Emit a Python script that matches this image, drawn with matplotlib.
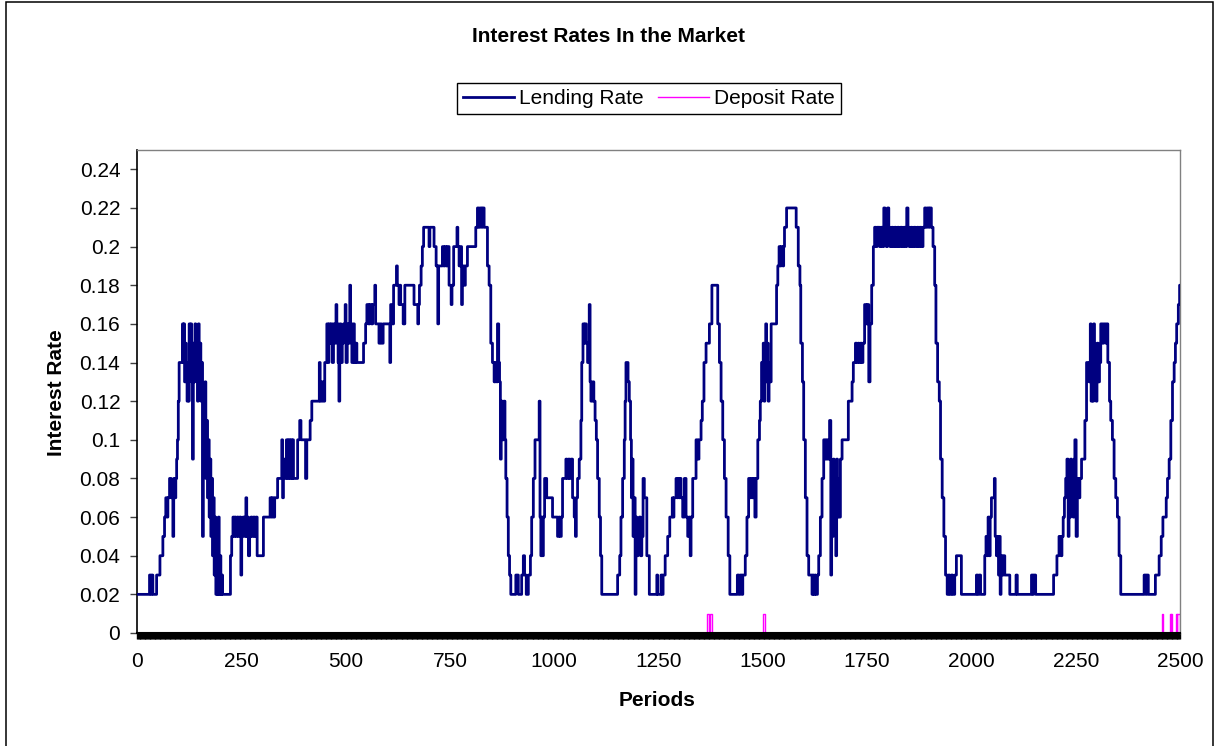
import numpy as np
import matplotlib
matplotlib.use("Agg")
import matplotlib.pyplot as plt
from matplotlib.ticker import MultipleLocator, FixedLocator
from matplotlib.patches import Rectangle

plt.rcParams['font.family'] = ['Liberation Sans', 'DejaVu Sans']

# ---- data ----
# Lending rate: step series, (start period, rate in percent)
lend_start = [
    0, 30, 33, 35, 38, 47, 55, 62, 66, 69, 72, 74, 78, 82, 86, 88, 91, 93, 95, 97,
    99, 101, 109, 111, 112, 114, 116, 118, 120, 122, 124, 125, 127, 129, 131, 133,
    135, 137, 139, 141, 143, 145, 147, 149, 151, 153, 155, 157, 159, 161, 163, 165,
    167, 169, 171, 173, 175, 177, 179, 181, 183, 185, 187, 189, 191, 193, 195, 197,
    199, 201, 203, 205,
    224, 227, 230, 232, 234, 237, 240, 243, 246, 249, 251, 254, 258, 261, 263, 265,
    267, 270, 273, 276, 279, 282, 285,
    288, 303, 319, 322, 324, 327, 330, 337, 347, 349, 351, 355, 358, 361, 363, 366,
    368, 371, 373, 375, 385, 390, 393, 404, 407, 415, 419, 437, 439, 443, 446, 450,
    455, 458, 460, 463, 465, 468, 471, 474, 477, 479, 482, 484, 486, 489, 492, 495,
    499, 501, 504, 507, 510, 512, 515, 518, 521, 524, 527, 543, 548, 551, 555, 558,
    562, 565, 570, 572, 580, 583, 586, 590, 606, 608, 612, 615, 622,
    624, 628, 630, 632, 638, 642, 664, 673, 675, 677, 681, 684, 687, 700, 702, 712,
    717, 721, 723, 732, 735, 738, 741, 744, 748, 753, 755, 759, 767, 769, 772, 775,
    778, 780, 784, 787, 792, 812, 816, 819, 822, 826, 828, 832, 840, 844, 848, 852,
    856, 859, 862, 864, 867, 869, 871, 873, 876, 879, 882, 884, 887, 890, 893, 896,
    908, 914, 922, 926, 929, 933, 938, 943, 946, 950, 954, 964, 966, 968, 970, 972,
    974, 977, 982, 996, 1008, 1011, 1014, 1017, 1020, 1028, 1031, 1034, 1037, 1040,
    1044, 1048, 1051, 1053, 1056, 1060, 1064, 1066, 1069, 1072, 1074, 1077, 1080,
    1082, 1084, 1086, 1088, 1092, 1095, 1098, 1101, 1104, 1108, 1111, 1114, 1152,
    1157, 1160, 1164, 1168, 1170, 1172, 1177, 1180, 1183, 1185, 1187, 1189, 1191,
    1194, 1196, 1198, 1201, 1204, 1207, 1210, 1213, 1216, 1222, 1228, 1246, 1248,
    1256, 1259, 1261, 1266, 1272, 1277, 1283, 1285, 1287, 1292, 1295, 1297, 1300,
    1302, 1304, 1308, 1312, 1316, 1320, 1323, 1326, 1328, 1332, 1340, 1344, 1347,
    1352, 1355, 1359, 1364, 1372, 1378, 1392, 1396, 1400, 1404, 1408, 1412, 1417,
    1421, 1439, 1443, 1446, 1450, 1452, 1458, 1462, 1466, 1469, 1472, 1475, 1478,
    1481, 1484, 1488, 1492, 1494, 1497, 1499, 1501, 1503, 1505, 1507, 1509, 1511,
    1513, 1515, 1517, 1520, 1533, 1536, 1539, 1541, 1544, 1548, 1550, 1552, 1557,
    1580, 1585, 1589, 1591, 1595, 1598, 1602, 1606, 1610, 1618, 1620, 1622, 1625,
    1627, 1631, 1634, 1638, 1642, 1646, 1650, 1653, 1656, 1660, 1663, 1665, 1667,
    1669, 1671, 1673, 1675, 1677, 1679, 1681, 1683, 1686, 1690, 1705, 1714, 1717,
    1722, 1725, 1728, 1731, 1734, 1737, 1740, 1744, 1748, 1751, 1754, 1757, 1761,
    1765, 1768, 1772, 1774, 1780, 1783, 1787, 1790, 1793, 1796, 1799, 1802, 1805,
    1809, 1812, 1816, 1819, 1823, 1826, 1830, 1834, 1838, 1842, 1845, 1848, 1851,
    1855, 1858, 1862, 1866, 1870,
    1873, 1876, 1880, 1884, 1888, 1891, 1894, 1898, 1900, 1904, 1908, 1912, 1915,
    1919, 1923, 1926, 1930, 1934, 1938, 1942, 1945, 1948, 1952, 1955, 1960, 1964,
    1976, 2012, 2015, 2018, 2022, 2032, 2035, 2038, 2040, 2043, 2045, 2048, 2055,
    2057, 2060, 2062, 2065, 2067, 2069, 2071, 2074, 2077, 2080, 2092, 2107, 2110,
    2144, 2147, 2149, 2154,
    2197, 2205, 2210, 2215, 2217, 2220, 2223, 2226, 2229, 2232, 2234, 2236, 2238,
    2240, 2242, 2244, 2246, 2248, 2251, 2254, 2258, 2260, 2264, 2272, 2276, 2282,
    2285, 2287, 2289, 2291, 2293, 2295, 2297, 2299, 2301, 2304, 2307, 2310, 2314,
    2317, 2322, 2325, 2327, 2331, 2334, 2338, 2342, 2346, 2350, 2354, 2358, 2414,
    2418, 2420, 2424, 2441, 2450, 2455, 2459, 2467, 2470, 2474, 2478, 2482, 2486,
    2489, 2492, 2496, 2499,
]
lend_pct = [
    2, 3, 2, 3, 2, 3, 4, 5, 6, 7, 6, 7, 8, 7, 5, 8, 7, 8, 9, 10,
    12, 14, 16, 14, 16, 13, 15, 13, 12, 14, 12, 16, 15, 16, 13, 9,
    15, 13, 16, 14, 15, 12, 16, 13, 15, 12, 14, 5, 12, 9, 13, 8,
    11, 7, 10, 6, 9, 5, 8, 4, 7, 3, 6, 2, 5, 2, 6, 2,
    4, 2, 3, 2,
    4, 5, 6, 5, 6, 5, 6, 5, 6, 3, 5, 6, 5, 7, 5, 6,
    4, 5, 6, 5, 6, 5, 6,
    4, 6, 7, 6, 7, 6, 7, 8, 10, 7, 9, 8, 10, 8, 10, 8,
    10, 8, 10, 8, 10, 11, 10, 8, 10, 11, 12, 14, 12, 13, 12, 14,
    16, 14, 16, 15, 16, 14, 16, 15, 17, 16, 14, 12, 16, 14, 15, 16,
    17, 14, 16, 15, 18, 16, 14, 16, 14, 15, 14, 15, 16, 17, 16, 17,
    16, 17, 18, 16, 15, 16, 15, 16, 14, 17, 16, 18, 19,
    18, 17, 18, 17, 16, 18, 17, 16, 17, 18, 19, 20, 21, 20, 21, 20,
    19, 16, 19, 20, 19, 20, 19, 20, 18, 17, 18, 20, 21, 20, 19, 20,
    17, 19, 18, 19, 20, 21, 22, 21, 22, 21, 22, 21, 19, 18, 15, 14,
    13, 14, 13, 16, 14, 13, 9, 12, 10, 12, 10, 8, 6, 4, 3, 2,
    3, 2, 3, 4, 3, 2, 3, 4, 6, 8, 10, 12, 6, 4, 6, 4,
    6, 8, 7, 6, 5, 6, 5, 6, 8, 9, 8, 9, 8, 9,
    7, 6, 5, 7, 8, 9, 11, 14, 16, 15, 16, 15, 14,
    15, 17, 13, 12, 13, 12, 11, 10, 8, 6, 4, 2, 3,
    4, 6, 8, 10, 12, 14, 13, 12, 10, 7, 9, 5, 7,
    2, 6, 4, 5, 6, 4, 5, 8, 7, 4, 2, 3, 2,
    3, 2, 3, 4, 5, 6, 7, 6, 7, 8, 7, 8, 7,
    8, 7, 6, 8, 6, 5, 6, 4, 6, 8, 10, 9, 10,
    11, 12, 14, 15, 16, 18, 16, 14, 12, 10, 8, 6, 4,
    2, 3, 2, 3, 2, 3, 4, 6, 8, 7, 8, 7, 8,
    6, 8, 10, 11, 12, 14, 13, 15, 12, 14, 16, 13, 15,
    12, 14, 13, 16, 18, 19, 20, 19, 20, 19, 20, 21, 22,
    21, 19, 18, 15, 13, 10, 7, 4, 3, 2, 3, 2, 3,
    2, 3, 4, 6, 8, 10, 9, 10, 9, 11, 3, 8, 5,
    9, 6, 8, 4, 9, 6, 8, 6, 9, 10, 12, 13, 14,
    15, 14, 15, 14, 15, 14, 15, 17, 16, 17, 13, 16, 18,
    20, 21, 20, 21, 20, 21, 20, 22, 21, 20, 22, 21, 20,
    21, 20, 21, 20, 21, 20, 21, 20, 21, 20, 22, 21, 20,
    21, 20, 21, 20, 21,
    20, 21, 20, 21, 22, 21, 22, 21, 22, 21, 20, 18, 15,
    13, 12, 9, 7, 5, 3, 2, 3, 2, 3, 2, 3, 4,
    2, 3, 2, 3, 2, 4, 5, 4, 6, 4, 6, 7, 8,
    5, 4, 5, 3, 5, 2, 4, 3, 4, 3, 2, 3, 2,
    3, 2, 3, 2,
    3, 4, 5, 4, 5, 6, 7, 8, 9, 5, 8, 6, 9,
    7, 8, 6, 9, 10, 5, 8, 7, 8, 9, 11, 14, 13,
    16, 12, 15, 12, 16, 13, 14, 12, 15, 13, 14, 16, 15,
    16, 15, 16, 14, 12, 11, 10, 8, 7, 6, 4, 2, 3,
    2, 3, 2, 3, 4, 5, 6, 7, 8, 9, 11, 13, 14,
    15, 16, 17, 18,
]
last_period = 2500

# Deposit rate: zero except short spikes (start, end) at 0.01
dep_spike_start = [1367, 1374, 1501, 2458, 2476, 2479, 2490, 2494]
dep_spike_end = [1371, 1378, 1505, 2459, 2478, 2482, 2492, 2500]
dep_spike_value = 0.01

x_ticks = [0, 250, 500, 750, 1000, 1250, 1500, 1750, 2000, 2250, 2500]
y_ticks = [0, 0.02, 0.04, 0.06, 0.08, 0.10, 0.12, 0.14, 0.16, 0.18, 0.20, 0.22, 0.24]
y_labels = ["0", "0.02", "0.04", "0.06", "0.08", "0.1", "0.12", "0.14", "0.16",
            "0.18", "0.2", "0.22", "0.24"]

# ---- build series ----
assert len(lend_start) == len(lend_pct)
ls = np.array(lend_start + [last_period])
lv = np.array(lend_pct + [lend_pct[-1]]) / 100.0

dx = [0]
dy = [0.0]
for s, e in zip(dep_spike_start, dep_spike_end):
    dx += [s, s, e, e]
    dy += [0.0, dep_spike_value, dep_spike_value, 0.0]
dx.append(last_period)
dy.append(0.0)

# ---- figure ----
W, H = 1215, 746
fig = plt.figure(figsize=(W / 100, H / 100), dpi=100)
fig.patch.set_facecolor('white')
ax = fig.add_axes([137 / W, 1 - 633 / H, (1180 - 137) / W, (633 - 150) / H])

ax.plot(dx, dy, color='#FF00FF', lw=1.0, zorder=1, label='Deposit Rate')
ax.step(ls, lv, where='post', color='#000080', lw=2.0, zorder=3, label='Lending Rate')

ax.set_xlim(0, 2500)
ax.set_ylim(0, 0.25)

ax.xaxis.set_major_locator(FixedLocator(x_ticks))
ax.set_xticklabels([str(t) for t in x_ticks])
ax.xaxis.set_minor_locator(MultipleLocator(2))
ax.set_yticks(y_ticks)
ax.set_yticklabels(y_labels)

ax.tick_params(axis='x', which='both', direction='out', length=4.4, width=1.0,
               color='black', pad=9.5, labelsize=15)
ax.tick_params(axis='y', which='major', direction='out', length=5, width=1.0,
               color='#404040', pad=7, labelsize=15)

for side in ['top', 'right']:
    ax.spines[side].set_color('#808080')
    ax.spines[side].set_linewidth(1.0)
ax.spines['left'].set_color('black')
ax.spines['left'].set_linewidth(1.2)
ax.spines['bottom'].set_color('black')
ax.spines['bottom'].set_linewidth(1.5)
ax.spines['bottom'].set_zorder(5)

fig.text(608 / W, 1 - 37 / H, 'Interest Rates In the Market', ha='center', va='center',
         fontsize=15, fontweight='bold')
fig.text(657 / W, 1 - 701 / H, 'Periods', ha='center', va='center',
         fontsize=15, fontweight='bold')
fig.text(56 / W, 1 - 393 / H, 'Interest Rate', ha='center', va='center',
         fontsize=15, fontweight='bold', rotation=90)

handles, labels = ax.get_legend_handles_labels()
order = [1, 0]
leg = fig.legend([handles[i] for i in order], [labels[i] for i in order],
                 loc='center', bbox_to_anchor=(649 / W, 1 - 98.5 / H),
                 bbox_transform=fig.transFigure, ncol=2, fontsize=15,
                 frameon=True, fancybox=False, shadow=False, framealpha=1,
                 edgecolor='black', handlelength=2.45, handletextpad=0.25,
                 columnspacing=0.7, borderpad=0.3, borderaxespad=0)
leg.get_frame().set_linewidth(1.0)

fig.patches.append(Rectangle((6 / W, -0.01), (1213 - 6) / W, 1.01 - 2 / H,
                             transform=fig.transFigure, fill=False,
                             edgecolor='black', lw=1.1))

fig.savefig('out.png', dpi=100)
